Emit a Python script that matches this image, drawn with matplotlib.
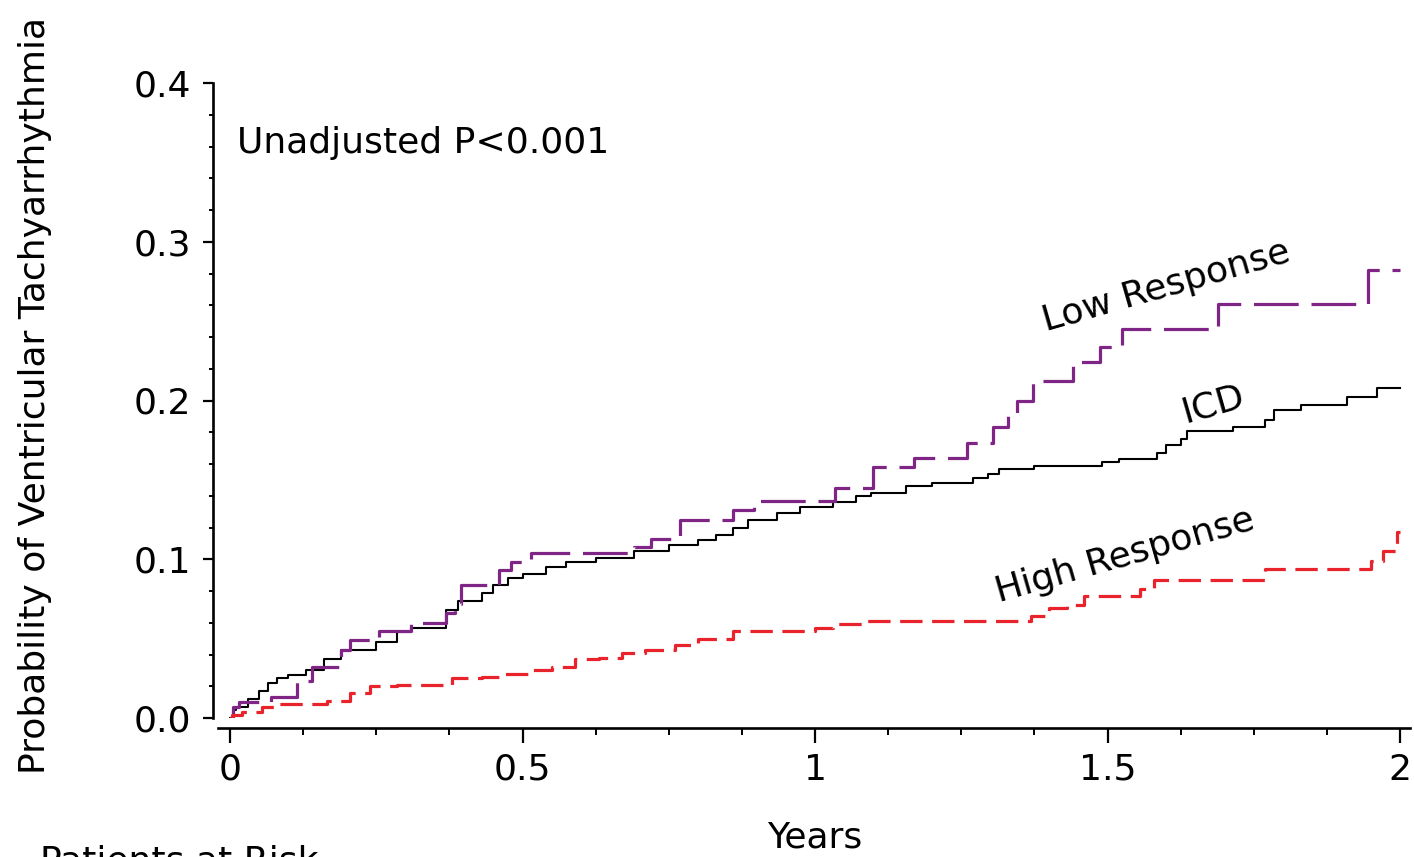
import matplotlib
matplotlib.use("Agg")
import matplotlib.pyplot as plt
from matplotlib.ticker import MultipleLocator, FixedLocator

# ---------------- data ----------------
low_t = [0.0, 0.005, 0.015, 0.07, 0.115, 0.14, 0.19, 0.205, 0.255, 0.31, 0.37, 0.385,
         0.395, 0.46, 0.48, 0.515, 0.69, 0.72, 0.77, 0.86, 0.895, 1.034, 1.099, 1.17,
         1.26, 1.304, 1.33, 1.345, 1.373, 1.441, 1.487, 1.525, 1.689, 1.945, 2.0]
low_y = [0.0, 0.007, 0.010, 0.013, 0.023, 0.032, 0.043, 0.049, 0.055, 0.060, 0.066, 0.072,
         0.084, 0.093, 0.098, 0.104, 0.108, 0.113, 0.125, 0.131, 0.137, 0.145, 0.158, 0.164,
         0.173, 0.183, 0.192, 0.200, 0.212, 0.224, 0.234, 0.245, 0.261, 0.282, 0.282]

icd_t = [0.0, 0.005, 0.01, 0.03, 0.05, 0.065, 0.08, 0.10, 0.13, 0.16, 0.19, 0.25, 0.285,
         0.31, 0.37, 0.39, 0.43, 0.45, 0.475, 0.50, 0.54, 0.575, 0.625, 0.69, 0.75, 0.80,
         0.83, 0.86, 0.885, 0.935, 0.975, 1.03, 1.07, 1.095, 1.155, 1.20, 1.27, 1.295,
         1.315, 1.375, 1.49, 1.52, 1.585, 1.60, 1.625, 1.635, 1.715, 1.77, 1.785, 1.83,
         1.91, 1.96, 2.0]
icd_y = [0.0, 0.005, 0.007, 0.012, 0.017, 0.022, 0.025, 0.027, 0.030, 0.037, 0.043, 0.048,
         0.054, 0.057, 0.068, 0.074, 0.079, 0.084, 0.088, 0.091, 0.095, 0.098, 0.101, 0.105,
         0.109, 0.112, 0.115, 0.120, 0.125, 0.129, 0.133, 0.136, 0.140, 0.142, 0.146, 0.148,
         0.151, 0.154, 0.157, 0.159, 0.161, 0.163, 0.167, 0.172, 0.176, 0.181, 0.183, 0.188,
         0.194, 0.197, 0.202, 0.208, 0.208]

high_t = [0.0, 0.003, 0.02, 0.055, 0.08, 0.165, 0.205, 0.24, 0.285, 0.38, 0.43, 0.47, 0.51,
          0.55, 0.59, 0.63, 0.67, 0.71, 0.76, 0.80, 0.86, 1.00, 1.03, 1.08, 1.37, 1.40,
          1.43, 1.46, 1.555, 1.58, 1.77, 1.95, 1.97, 1.995, 2.0]
high_y = [0.0, 0.002, 0.004, 0.007, 0.009, 0.011, 0.016, 0.020, 0.021, 0.025, 0.026, 0.028,
          0.030, 0.032, 0.037, 0.038, 0.041, 0.043, 0.046, 0.050, 0.055, 0.057, 0.059, 0.061,
          0.064, 0.069, 0.071, 0.077, 0.081, 0.087, 0.094, 0.099, 0.105, 0.117, 0.117]

x_ticks = [0, 0.5, 1, 1.5, 2]
x_tick_labels = ["0", "0.5", "1", "1.5", "2"]
y_ticks = [0.0, 0.1, 0.2, 0.3, 0.4]
y_tick_labels = ["0.0", "0.1", "0.2", "0.3", "0.4"]

PURPLE = "#7E2585"
RED = "#E8232B"

W, H = 1414, 857
fig = plt.figure(figsize=(W / 100, H / 100), dpi=100)
fig.patch.set_facecolor("white")
FS = 26

ax = fig.add_axes([218 / W, 1 - 718 / H, (1410 - 218) / W, (718 - 83) / H])
ax.set_xlim(-0.0205, 2.017)
ax.set_ylim(0, 0.4)

ax.step(icd_t, icd_y, where="post", color="black", lw=1.5, zorder=3)
ax.step(low_t, low_y, where="post", color=PURPLE, lw=2.3, dashes=(14, 4), zorder=4)
ax.step(high_t, high_y, where="post", color=RED, lw=2.3, dashes=(7, 3), zorder=4)

for s in ("top", "right"):
    ax.spines[s].set_visible(False)
ax.spines["left"].set_position(("outward", 3.6))
ax.spines["bottom"].set_position(("outward", 7.2))
ax.spines["left"].set_linewidth(1.9)
ax.spines["bottom"].set_linewidth(1.9)

ax.xaxis.set_major_locator(FixedLocator(x_ticks))
ax.set_xticklabels(x_tick_labels)
ax.xaxis.set_minor_locator(MultipleLocator(0.125))
ax.yaxis.set_major_locator(FixedLocator(y_ticks))
ax.set_yticklabels(y_tick_labels)
ax.yaxis.set_minor_locator(MultipleLocator(0.02))

ax.tick_params(axis="x", which="major", length=11, width=1.6, pad=7, labelsize=FS)
ax.tick_params(axis="x", which="minor", length=5, width=1.4)
ax.tick_params(axis="y", which="major", length=7, width=1.6, pad=9, labelsize=FS)
ax.tick_params(axis="y", which="minor", length=3, width=1.4)

ax.text(0.012, 0.3625, "Unadjusted P<0.001", fontsize=FS, ha="left", va="center")
ax.text(1.60, 0.272, "Low Response", fontsize=FS, rotation=16, ha="center", va="center")
ax.text(1.68, 0.198, "ICD", fontsize=FS, rotation=16, ha="center", va="center")
ax.text(1.53, 0.102, "High Response", fontsize=FS, rotation=16, ha="center", va="center")

fig.text(815 / W, 1 - 838 / H, "Years", fontsize=FS, ha="center", va="center")
fig.text(35 / W, 1 - 395 / H, "Probability of Ventricular Tachyarrhythmia",
         fontsize=FS, rotation=90, ha="center", va="center")
fig.text(40 / W, 1 - 845 / H, "Patients at Risk", fontsize=FS, ha="left", va="top")

fig.savefig("out.png", dpi=100, facecolor="white")
